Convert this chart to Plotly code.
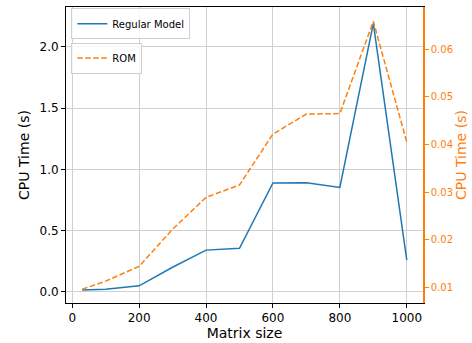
import plotly.graph_objects as go

matrix_size = [30, 100, 200, 300, 400, 500, 600, 700, 800, 900, 1000]
regular_time = [0.015, 0.02, 0.048, 0.20, 0.34, 0.355, 0.888, 0.89, 0.852, 2.193, 0.258]
rom_time = [0.0096, 0.0113, 0.0144, 0.0222, 0.0289, 0.0315, 0.0422, 0.0464, 0.0465, 0.0659, 0.0405]

x_ticks = [0, 200, 400, 600, 800, 1000]
left_ticks = [0.0, 0.5, 1.0, 1.5, 2.0]
right_ticks = [0.01, 0.02, 0.03, 0.04, 0.05, 0.06]

BLUE = "#1f77b4"
ORANGE = "#ff7f0e"
FONT = "DejaVu Sans"

fig = go.Figure()
fig.add_trace(go.Scatter(x=matrix_size, y=regular_time, mode="lines", name="Regular Model",
                         line=dict(color=BLUE, width=1.5), legend="legend", showlegend=True))
fig.add_trace(go.Scatter(x=matrix_size, y=rom_time, mode="lines", name="ROM",
                         line=dict(color=ORANGE, width=1.5, dash="5.5px,2.5px"), yaxis="y2",
                         legend="legend2", showlegend=True))

fig.update_layout(
    width=472, height=343,
    showlegend=True,
    margin=dict(l=66, r=49, t=7, b=40, autoexpand=False),
    paper_bgcolor="white", plot_bgcolor="white",
    font=dict(family=FONT, color="black", size=12),
    xaxis=dict(range=[-18.5, 1048.5], tickvals=x_ticks, showgrid=True, gridcolor="#cfcfcf", gridwidth=1,
               zeroline=False, showline=True, linecolor="black", linewidth=1, mirror=True,
               ticks="outside", ticklen=4, tickcolor="black", tickfont=dict(size=12), automargin=False,
               title=dict(text="Matrix size", font=dict(size=14), standoff=2)),
    yaxis=dict(range=[-0.092, 2.326], tickvals=left_ticks, tickformat=".1f", showgrid=True,
               gridcolor="#cfcfcf", gridwidth=1, zeroline=False, showline=True, linecolor="black",
               linewidth=1, ticks="outside", ticklen=4, tickcolor="black", tickfont=dict(size=12),
               automargin=False,
               title=dict(text="CPU Time (s)", font=dict(size=14), standoff=6)),
    yaxis2=dict(range=[0.0067, 0.0689], tickvals=right_ticks, tickformat=".2f", overlaying="y",
                side="right", showgrid=False, zeroline=False, showline=True, linecolor=ORANGE,
                linewidth=1.5, ticks="outside", ticklen=4, tickcolor=ORANGE, automargin=False,
                tickfont=dict(size=10, color=ORANGE),
                title=dict(text="CPU Time (s)", font=dict(size=14, color=ORANGE), standoff=2)),
    legend=dict(x=0.015, y=0.996, xanchor="left", yanchor="top", bgcolor="rgba(255,255,255,0.8)",
                bordercolor="#d0d0d0", borderwidth=1, font=dict(size=10), itemwidth=30,
                visible=True),
    legend2=dict(x=0.015, y=0.88, xanchor="left", yanchor="top", bgcolor="rgba(255,255,255,0.8)",
                 bordercolor="#d0d0d0", borderwidth=1, font=dict(size=10), itemwidth=30,
                 visible=True),
)

fig.write_html("out.html", config={"displayModeBar": False},
               post_script="document.body.style.margin='0';document.body.style.padding='0';")
